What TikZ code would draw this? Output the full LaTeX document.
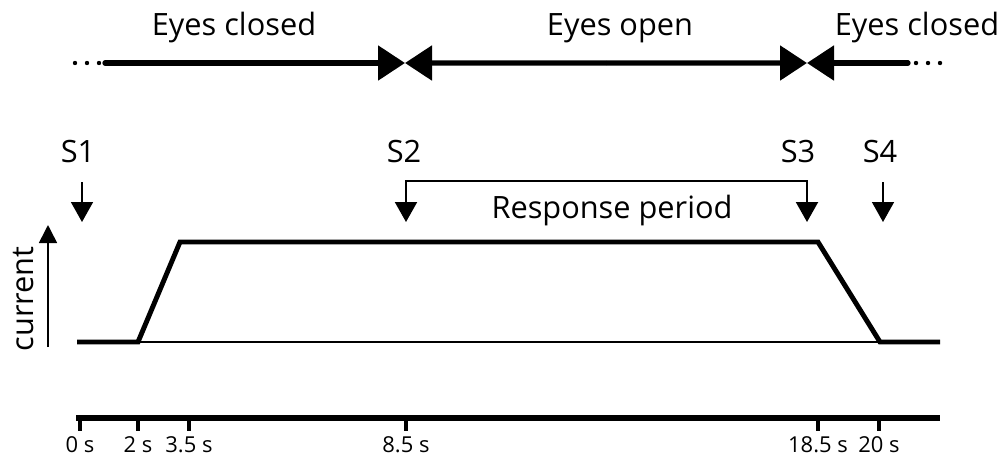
\documentclass[tikz,border=0pt]{standalone}
\usepackage{fontspec}
\setmainfont{Open Sans}
\usetikzlibrary{arrows.meta, positioning, calc}

\begin{document}
\begin{tikzpicture}[
    x=0.02cm, y=-0.02cm,
    font=\fontsize{17.5}{21}\selectfont,
    phase/.style={line width=3pt, line cap=round},
    meet/.style={-{Triangle[length=0.54cm, width=0.68cm]}},
    stim/.style={line width=0.9pt, -{Triangle[length=0.4cm, width=0.44cm]}},
    trace/.style={line width=2.8pt, line join=miter},
    lbl/.style={anchor=base, inner sep=0pt},
    tick/.style={font=\fontsize{12.5}{14}\selectfont, anchor=base, inner sep=0pt}
]
\useasboundingbox (0,0) rectangle (1007,457);

% ── Eye state bar ──
\coordinate (ebeg) at (105,63);
\coordinate (m1) at (405,63);
\coordinate (m2) at (807,63);
\coordinate (eend) at (908,63);
\node[lbl] (ec1) at (234,35) {Eyes closed};
\node[lbl] (eo) at (620,35) {Eyes open};
\node[lbl] (ec2) at (917,35) {Eyes closed};
\draw[phase, meet] (ebeg) -- (m1);
\draw[phase, meet] (eend) -- (m2);
\draw[phase, line cap=butt, meet] ($(m2)!0.5!(m1)$) -- (m1);
\draw[phase, line cap=butt, meet] ($(m1)!0.5!(m2)$) -- (m2);
\foreach \x in {75,87,99} \fill (\x,63) circle (2.2);
\foreach \x in {916,928,940} \fill (\x,63) circle (2.2);

% ── Stimuli ──
\node[lbl] (s1) at (78,162) {S1};
\node[lbl] (s2) at (404,162) {S2};
\node[lbl] (s3) at (798,162) {S3};
\node[lbl] (s4) at (880,162) {S4};
\coordinate (s1top) at (82,182);  \coordinate (s1tip) at (82,222);
\coordinate (s2tip) at (406,222);
\coordinate (s3top) at (807,181); \coordinate (s3tip) at (807,222);
\coordinate (s4top) at (883,182); \coordinate (s4tip) at (883,222);
\draw[stim] (s1top) -- (s1tip);
\draw[stim] (s4top) -- (s4tip);
\draw[stim, line width=1.2pt, {Triangle[length=0.4cm, width=0.44cm]}-{Triangle[length=0.4cm, width=0.44cm]}]
     (s2tip) |- (s3top) -- (s3tip);
\node[lbl] (resp) at (612,218) {Response period};

% ── Current trace ──
\coordinate (cbot) at (48,347);
\coordinate (ctop) at (48,225);
\draw[line width=0.9pt, -{Triangle[length=0.36cm, width=0.36cm]}] (cbot) -- (ctop);
\node[lbl, rotate=90] (cur) at (33,299) {current};
\coordinate (t0) at (77,342);
\coordinate (t2) at (138,342);
\coordinate (t35) at (180,242);
\coordinate (t185) at (818,242);
\coordinate (t20) at (880,342);
\coordinate (tend) at (940,342);
\draw[line width=0.85pt] (t2) -- (t20);
\draw[trace] (t0) -- (t2) -- (t35) -- (t185) -- (t20) -- (tend);

% ── Time axis ──
\coordinate (a0) at (78,418);
\coordinate (a1) at (940,418);
\draw[line width=3.4pt] ($(a0)+(-2,0)$) -- (a1);
\foreach \x/\t in {80/0 s, 138/2 s, 189/3.5 s, 406/8.5 s, 818/18.5 s, 879/20 s} {
    \draw[line width=2.2pt] (\x,418) -- (\x,431);
    \node[tick] at (\x,452) {\t};
}
\end{tikzpicture}
\end{document}
